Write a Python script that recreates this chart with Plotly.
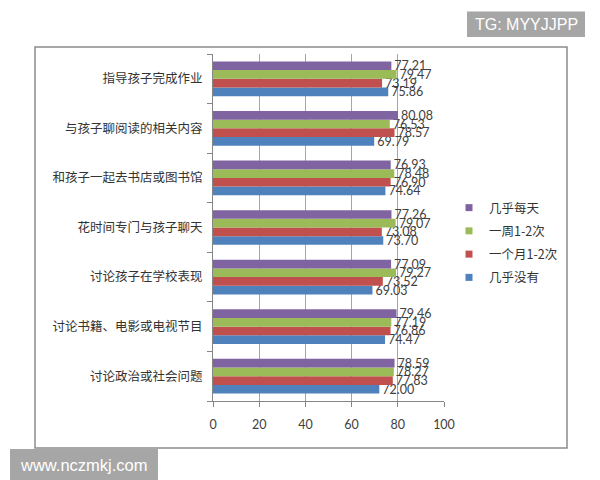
import plotly.graph_objects as go

# categories, listed bottom to top as they appear on the axis
categories = [
    "讨论政治或社会问题",
    "讨论书籍、电影或电视节目",
    "讨论孩子在学校表现",
    "花时间专门与孩子聊天",
    "和孩子一起去书店或图书馆",
    "与孩子聊阅读的相关内容",
    "指导孩子完成作业",
]

series_names = ["几乎没有", "一个月1-2次", "一周1-2次", "几乎每天"]

never = [72.00, 74.47, 69.03, 73.70, 74.64, 69.79, 75.86]
monthly = [77.83, 76.86, 73.52, 73.08, 76.90, 78.57, 73.19]
weekly = [78.27, 77.19, 79.27, 79.07, 78.48, 76.53, 79.47]
daily = [78.59, 79.46, 77.09, 77.26, 76.93, 80.08, 77.21]

x_ticks = [0, 20, 40, 60, 80, 100]

colors = ["#4F81BD", "#C0504D", "#9BBB59", "#8064A2"]

W, H = 600, 480
L, R, T, B = 213, 444, 54, 401   # plot area in pixels


def px(x):
    return (x - L) / (R - L)


def py(y):
    return (B - y) / (B - T)


fig = go.Figure()
for i, (name, vals, c) in enumerate(zip(series_names, [never, monthly, weekly, daily], colors)):
    fig.add_trace(go.Bar(
        y=categories, x=vals, orientation="h", name=name,
        marker=dict(color=c, line=dict(width=0)),
        text=["%.2f" % v for v in vals], textposition="outside",
        textfont=dict(family="Lato, Liberation Sans", size=12.5, color="#404040"),
        constraintext="none", cliponaxis=False, showlegend=False,
    ))
    # small square legend markers, daily on top
    fig.add_trace(go.Scatter(
        x=[None], y=[None], mode="markers", name=name, legendgroup=name,
        legendrank=100 - i,
        marker=dict(symbol="square", size=7, color=c),
    ))

fig.update_layout(
    width=W, height=H,
    margin=dict(l=L, r=W - R, t=T, b=H - B, pad=0),
    paper_bgcolor="white", plot_bgcolor="white",
    barmode="group", bargap=0.30, bargroupgap=0,
    font=dict(family="Noto Sans CJK SC", size=12.5, color="#333333"),
    legend=dict(x=px(449), y=py(193), xanchor="left", yanchor="top",
                traceorder="grouped", tracegroupgap=4,
                font=dict(size=12.5, color="#333333"),
                bgcolor="rgba(0,0,0,0)"),
    xaxis=dict(range=[0, 100], tickvals=x_ticks, showgrid=True,
               gridcolor="#a6a6a6", gridwidth=1, zeroline=False,
               showline=True, linecolor="#868686", ticks="outside",
               ticklen=5, tickcolor="#868686", ticklabelstandoff=7,
               tickfont=dict(family="Lato, Liberation Sans", size=12.5,
                             color="#404040")),
    yaxis=dict(showline=True, linecolor="#868686", ticks="outside",
               tickson="boundaries", ticklen=5, tickcolor="#868686",
               showgrid=False, ticklabelstandoff=7),
)

# outer chart frame
fig.add_shape(type="rect", xref="paper", yref="paper",
              x0=px(35), x1=px(567), y0=py(448), y1=py(47),
              line=dict(color="#8c8c8c", width=1.5), layer="below")

# watermark boxes
fig.add_shape(type="rect", xref="paper", yref="paper",
              x0=px(467), x1=px(585), y0=py(37), y1=py(11.5),
              fillcolor="#a6a6a6", line=dict(width=0))
fig.add_shape(type="rect", xref="paper", yref="paper",
              x0=px(10), x1=px(158), y0=py(482), y1=py(449),
              fillcolor="#a6a6a6", line=dict(width=0))
fig.add_annotation(text="TG: MYYJJPP", xref="paper", yref="paper",
                   x=px(526), y=py(24.5), xanchor="center", yanchor="middle",
                   showarrow=False,
                   font=dict(family="Liberation Sans", size=16, color="white"))
fig.add_annotation(text="www.nczmkj.com", xref="paper", yref="paper",
                   x=px(84), y=py(465), xanchor="center", yanchor="middle",
                   showarrow=False,
                   font=dict(family="Liberation Sans", size=16.5, color="white"))

fig.write_html("out.html", config={"displayModeBar": False},
               post_script="document.body.style.margin='0px';")
